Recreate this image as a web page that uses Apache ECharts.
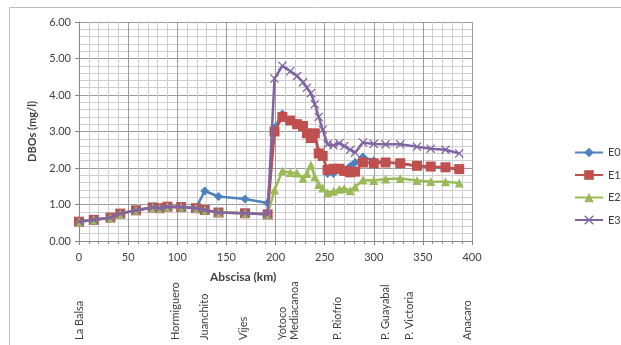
<!DOCTYPE html>
<html>
<head>
<meta charset="utf-8">
<script src="https://cdn.jsdelivr.net/npm/echarts@6/dist/echarts.min.js"></script>
<style>
html,body{margin:0;padding:0;background:#fff;}
#chart{width:621px;height:345px;}
</style>
</head>
<body>
<div id="chart"></div>
<script>
// Abscisa (km) of the sampling points
var km = [0, 15, 32, 42, 58, 75, 82, 90, 104, 119, 128, 142, 169, 192, 199, 207, 215, 222, 228, 232, 236, 240, 244, 248, 253, 259, 265, 270, 276, 281, 289, 300, 312, 327, 344, 358, 373, 387];

var E0 = [0.53, 0.58, 0.64, 0.75, 0.84, 0.92, 0.90, 0.94, 0.93, 0.90, 1.37, 1.22, 1.15, 1.04, 3.10, 3.48, 3.30, 3.22, 3.15, 2.97, 2.85, 2.95, 2.45, 2.35, 1.85, 1.85, 1.95, 1.95, 2.05, 2.15, 2.30, 2.20, 2.15, 2.12, 2.05, 2.03, 2.00, 1.96];
var E1 = [0.53, 0.58, 0.64, 0.75, 0.84, 0.92, 0.90, 0.94, 0.93, 0.90, 0.85, 0.78, 0.76, 0.73, 3.00, 3.40, 3.30, 3.20, 3.15, 2.95, 2.82, 2.95, 2.40, 2.33, 1.95, 1.98, 1.98, 1.92, 1.88, 1.90, 2.15, 2.13, 2.15, 2.13, 2.06, 2.04, 2.02, 1.97];
var E2 = [0.53, 0.58, 0.64, 0.75, 0.84, 0.92, 0.90, 0.94, 0.93, 0.90, 0.85, 0.78, 0.76, 0.73, 1.40, 1.92, 1.88, 1.86, 1.72, 1.85, 2.08, 1.76, 1.55, 1.45, 1.32, 1.36, 1.42, 1.44, 1.38, 1.48, 1.67, 1.66, 1.70, 1.71, 1.66, 1.63, 1.62, 1.59];
var E3 = [0.53, 0.58, 0.64, 0.75, 0.84, 0.92, 0.90, 0.94, 0.93, 0.90, 0.85, 0.78, 0.76, 0.73, 4.45, 4.80, 4.65, 4.52, 4.35, 4.20, 4.05, 3.75, 3.40, 3.05, 2.65, 2.62, 2.68, 2.60, 2.50, 2.42, 2.70, 2.66, 2.65, 2.65, 2.58, 2.53, 2.50, 2.40];

var seriesNames = ['E0', 'E1', 'E2', 'E3'];

// Station names and their abscisa
var stationNames = ['La Balsa', 'Hormiguero', 'Juanchito', 'Vijes', 'Yotoco', 'Mediacanoa', 'P. Riofrío', 'P. Guayabal', 'P. Victoria', 'Anacaro'];
var stationKm = [0, 98, 128, 167, 207, 219, 263, 312, 336, 395];

var yTicks = [0, 1, 2, 3, 4, 5, 6];
var xTicks = [0, 50, 100, 150, 200, 250, 300, 350, 400];

function pairs(vals) {
  return km.map(function (k, i) { return [k, vals[i]]; });
}
var stationMap = {};
stationKm.forEach(function (k, i) { stationMap[k] = stationNames[i]; });

var FONT = 'Lato, "Open Sans", sans-serif';
var xPath = 'path://M0,1 L1,0 L5,4 L9,0 L10,1 L6,5 L10,9 L9,10 L5,6 L1,10 L0,9 L4,5 Z';

var chart = echarts.init(document.getElementById('chart'), null, { renderer: 'canvas' });
var option = {
  animation: false,
  textStyle: { fontFamily: FONT },
  grid: { left: 79, right: 149, top: 22, bottom: 104 },
  legend: {
    orient: 'vertical',
    left: 574,
    top: 147,
    padding: 0,
    itemWidth: 28,
    itemHeight: 12,
    itemGap: 11.5,
    textStyle: { fontSize: 11, color: '#404040', fontFamily: FONT },
    data: seriesNames
  },
  xAxis: [{
    type: 'value',
    min: xTicks[0],
    max: xTicks[xTicks.length - 1],
    interval: 50,
    axisLine: { show: true, lineStyle: { color: '#868686', width: 1 } },
    axisTick: { show: true, length: 4, lineStyle: { color: '#868686' } },
    minorTick: { show: true, splitNumber: 5, length: 3, lineStyle: { color: '#868686' } },
    splitLine: { show: true, lineStyle: { color: '#9a9a9a', width: 1 } },
    minorSplitLine: { show: true, lineStyle: { color: '#cfcfcf', width: 1 } },
    axisLabel: { fontSize: 11, color: '#404040', margin: 11, fontFamily: FONT }
  }, {
    type: 'value',
    min: xTicks[0],
    max: xTicks[xTicks.length - 1],
    position: 'bottom',
    offset: 91,
    axisLine: { show: false },
    axisTick: { show: false },
    splitLine: { show: false },
    axisLabel: {
      customValues: stationKm,
      rotate: 90,
      align: 'left',
      verticalAlign: 'middle',
      margin: 8,
      fontSize: 11,
      color: '#404040',
      fontFamily: FONT,
      formatter: function (v) { return stationMap[v] || ''; }
    }
  }],
  yAxis: {
    type: 'value',
    min: yTicks[0],
    max: yTicks[yTicks.length - 1],
    interval: 1,
    name: 'DBOs (mg/l)',
    nameLocation: 'middle',
    nameGap: 41,
    nameRotate: 90,
    nameTextStyle: { fontWeight: 'bold', fontSize: 11, color: '#404040', fontFamily: FONT },
    axisLine: { show: true, lineStyle: { color: '#868686', width: 1 } },
    axisTick: { show: true, length: 4, lineStyle: { color: '#868686' } },
    minorTick: { show: false, splitNumber: 5 },
    splitLine: { show: true, lineStyle: { color: '#9a9a9a', width: 1 } },
    minorSplitLine: { show: true, lineStyle: { color: '#cfcfcf', width: 1 } },
    axisLabel: {
      fontSize: 11, color: '#404040', margin: 8, fontFamily: FONT,
      formatter: function (v) { return v.toFixed(2); }
    }
  },
  graphic: [{
    type: 'rect',
    shape: { x: 9.5, y: 7.5, width: 700, height: 400 },
    style: { fill: 'none', stroke: '#bfbfbf', lineWidth: 1 },
    silent: true, z: -10
  }, {
    type: 'text',
    left: 210,
    top: 271,
    style: { text: 'Abscisa (km)', font: 'bold 12px ' + FONT, fill: '#404040' }
  }],
  series: [{
    name: 'E0', type: 'line', data: pairs(E0), z: 2,
    symbol: 'diamond', symbolSize: 9,
    lineStyle: { color: '#4F81BD', width: 2.5 },
    itemStyle: { color: '#4F81BD' }
  }, {
    name: 'E1', type: 'line', data: pairs(E1), z: 3,
    symbol: 'rect', symbolSize: 10,
    lineStyle: { color: '#C0504D', width: 2.5 },
    itemStyle: { color: '#C0504D' }
  }, {
    name: 'E2', type: 'line', data: pairs(E2), z: 4,
    symbol: 'triangle', symbolSize: 9,
    lineStyle: { color: '#9BBB59', width: 2.5 },
    itemStyle: { color: '#9BBB59' }
  }, {
    name: 'E3', type: 'line', data: pairs(E3), z: 5,
    symbol: xPath, symbolSize: 9,
    lineStyle: { color: '#8064A2', width: 2.5 },
    itemStyle: { color: '#8064A2' }
  }]
};
chart.setOption(option);
</script>
</body>
</html>
